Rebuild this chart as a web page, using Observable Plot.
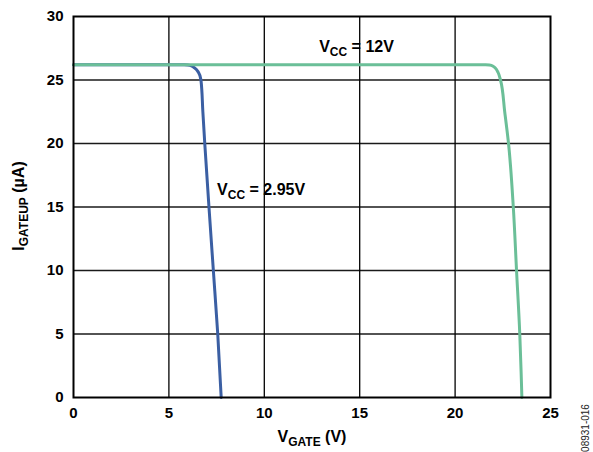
<!DOCTYPE html>
<html>
<head>
<meta charset="utf-8">
<script src="https://cdn.jsdelivr.net/npm/d3@7"></script>
<script src="https://cdn.jsdelivr.net/npm/@observablehq/plot@0.6"></script>
<style>
  html, body { margin: 0; padding: 0; background: #fff; }
  #chart { width: 593px; height: 452px; overflow: hidden; }
  svg { font-family: "Liberation Sans", Arial, sans-serif; }
</style>
</head>
<body>
<div id="chart"></div>
<script>
// ---- data ----
const xTicks = [0, 5, 10, 15, 20, 25];
const yTicks = [0, 5, 10, 15, 20, 25, 30];

// VCC = 2.95V
const vgateLow = [0, 5.8, 6.1, 6.35, 6.55, 6.68, 6.78, 6.88, 7.1, 7.33, 7.56, 7.74];
const igateLow = [26.2, 26.2, 26.15, 25.95, 25.6, 25.0, 22.5, 20, 15, 10, 5, 0];

// VCC = 12V
const vgateHigh = [0, 21.6, 21.9, 22.1, 22.25, 22.38, 22.6, 22.8, 23.05, 23.22, 23.39, 23.46, 23.5];
const igateHigh = [26.2, 26.2, 26.15, 25.95, 25.6, 25.0, 22.5, 20, 15, 10, 5, 2, 0];

const seriesNames = ["2.95V", "12V"];
const seriesColors = ["#3b5fa3", "#6bbf98"];

// annotation anchor points (data coords)
const annoX = [7.55, 12.9];
const annoY = [15.9, 27.2];

const rows = [
  ...vgateLow.map((v, i) => ({s: seriesNames[0], x: v, y: igateLow[i]})),
  ...vgateHigh.map((v, i) => ({s: seriesNames[1], x: v, y: igateHigh[i]}))
];

const ff = '"Liberation Sans", Arial, sans-serif';

const plot = Plot.plot({
  width: 593,
  height: 452,
  marginLeft: 73,
  marginRight: 43,
  marginTop: 16,
  marginBottom: 55,
  style: {fontFamily: ff, color: "#000"},
  x: {domain: [0, 25], label: null, axis: null},
  y: {domain: [0, 30], label: null, axis: null},
  color: {domain: seriesNames, range: seriesColors},
  marks: [
    Plot.ruleY(yTicks.slice(1, -1), {stroke: "#1a1a1a", strokeWidth: 1.3}),
    Plot.ruleX(xTicks.slice(1, -1), {stroke: "#000", strokeWidth: 1.3}),
    Plot.line(rows, {x: "x", y: "y", z: "s", stroke: "s", strokeWidth: 3, curve: "monotone-y"}),
    Plot.frame({stroke: "#000", strokeWidth: 2}),
    Plot.text(xTicks, {x: d => d, y: () => 0, dy: 16, text: d => String(d),
      fontSize: 15, fontWeight: "bold", fill: "#000", textAnchor: "middle"}),
    Plot.text(yTicks, {x: () => 0, y: d => d, dx: -10, text: d => String(d),
      fontSize: 15, fontWeight: "bold", fill: "#000", textAnchor: "end"})
  ]
});
document.getElementById("chart").appendChild(plot);

const sx = plot.scale("x"), sy = plot.scale("y");
const svg = d3.select(plot);

function sublabel(x, y, main, sub, rest, size, anchor, rotate) {
  const t = svg.append("text")
    .attr("font-family", ff).attr("font-weight", "bold").attr("font-size", size)
    .attr("fill", "#000").attr("text-anchor", anchor);
  if (rotate) {
    t.attr("transform", `translate(${x},${y}) rotate(-90)`);
  } else {
    t.attr("x", x).attr("y", y);
  }
  t.append("tspan").text(main);
  t.append("tspan").attr("font-size", size * 0.75).attr("dy", size * 0.27).text(sub);
  t.append("tspan").attr("dy", -size * 0.27).text(rest);
  return t;
}

// curve annotations
sublabel(sx.apply(annoX[0]), sy.apply(annoY[0]), "V", "CC", " = 2.95V", 16, "start");
sublabel(sx.apply(annoX[1]), sy.apply(annoY[1]), "V", "CC", " = 12V", 16, "start");

// axis titles
sublabel(312, 442, "V", "GATE", " (V)", 16, "middle");
sublabel(24, 206, "I", "GATEUP", " (µA)", 16, "middle", true);

// figure id
svg.append("text")
  .attr("transform", "translate(589,428) rotate(-90)")
  .attr("text-anchor", "middle")
  .attr("font-family", ff).attr("font-size", 10).attr("fill", "#222")
  .text("08931-016");
</script>
</body>
</html>
